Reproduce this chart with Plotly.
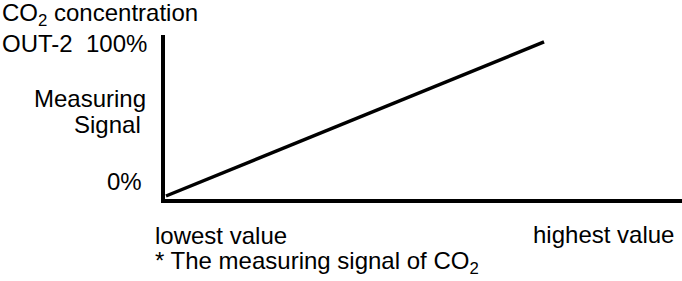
import plotly.graph_objects as go

# ---- data ----
signal_x = [0, 1]            # lowest value -> highest value
signal_y = [0, 100]          # 0% -> 100% of measuring signal
x_labels = ["lowest value", "highest value"]
y_labels = ["0%", "100%"]
title_text = "CO<sub>2</sub> concentration"
output_name = "OUT-2"
y_title_lines = ["Measuring", "Signal"]
footnote = "* The measuring signal of CO<sub>2</sub>"

W, H = 682, 281
ML, MR, MT, MB = 165, 0, 35, 82
PW, PH = W - ML - MR, H - MT - MB

def px(xpix):
    return (xpix - ML) / PW

def py(ypix):
    return (H - MB - ypix) / PH

FONT = dict(family="Arial, Liberation Sans, Helvetica, sans-serif", size=24, color="black")

fig = go.Figure()
fig.add_trace(go.Scatter(
    x=signal_x, y=signal_y, mode="lines",
    line=dict(color="black", width=3.5),
    hoverinfo="skip", showlegend=False, cliponaxis=False,
))

ann = []
def add(text, xpix, ypix, xanchor):
    ann.append(dict(text=text, x=px(xpix), y=py(ypix), xref="paper", yref="paper",
                    xanchor=xanchor, yanchor="middle", showarrow=False, font=FONT,
                    borderpad=0, borderwidth=0))

add(title_text, 2, 14, "left")
add(output_name, 2, 43, "left")
add(y_labels[1], 147, 43, "right")
add(y_title_lines[0], 146, 98, "right")
add(y_title_lines[1], 141, 124, "right")
add(y_labels[0], 142, 181, "right")
add(x_labels[0], 155, 235, "left")
add(x_labels[1], 533, 234, "left")
add(footnote, 155, 262, "left")

fig.update_layout(
    width=W, height=H,
    margin=dict(l=ML, r=MR, t=MT, b=MB, pad=0),
    paper_bgcolor="white", plot_bgcolor="white",
    annotations=ann,
    xaxis=dict(range=[-0.0026, 1.365], showline=True, linecolor="black", linewidth=3.5,
               showgrid=False, zeroline=False, showticklabels=False, ticks=""),
    yaxis=dict(range=[-1.95, 104.5], showline=True, linecolor="black", linewidth=3.5,
               showgrid=False, zeroline=False, showticklabels=False, ticks=""),
)

fig.write_html("out.html", config={"displayModeBar": False},
               post_script="document.documentElement.style.margin='0';"
                           "document.body.style.margin='0';"
                           "document.body.style.overflow='hidden';")
